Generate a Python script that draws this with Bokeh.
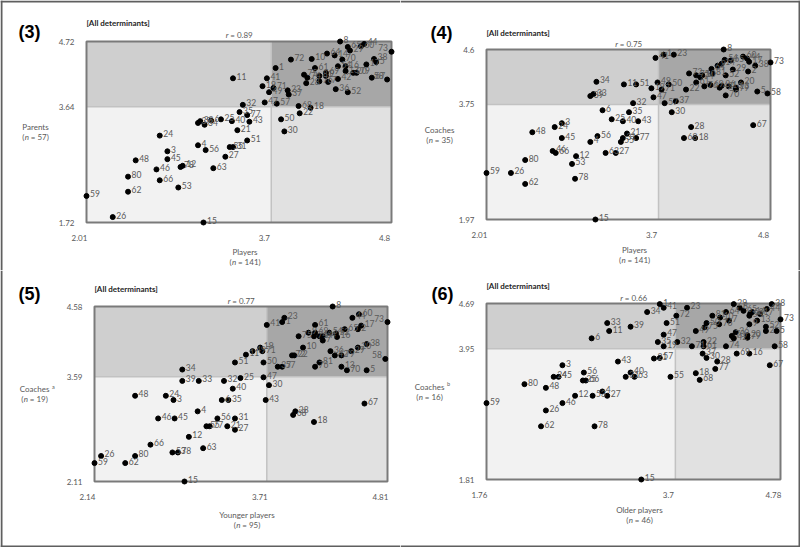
from bokeh.plotting import figure
from bokeh.models import Range1d
from bokeh.layouts import row, column
from bokeh.embed import file_html
from bokeh.resources import INLINE
from bokeh.core.properties import value

# ---------------- data ----------------
# Panel (3): Players (x) vs Parents (y)
ids3 = [1, 3, 4, 5, 6, 7, 8, 9, 10, 11, 12, 13, 14, 15, 16, 17, 18, 19, 20, 21, 22, 23, 24, 25, 26, 27, 28, 29, 30,
        31, 32, 33, 34, 35, 36, 37, 38, 39, 40, 41, 42, 43, 44, 45, 46, 47, 48, 49, 50, 51, 52, 53, 54, 55, 56, 57, 58,
        59, 60, 61, 62, 63, 64, 65, 66, 67, 68, 69, 70, 71, 72, 73, 74, 75, 76, 77, 78, 79, 80, 81]
x3 = [3.74, 2.75, 3.03, 4.66, 3.15, 4.22, 4.33, 4.20, 4.07, 3.35, 2.89, 4.38, 4.28, 3.08, 4.38, 4.57, 4.06, 3.62, 4.45,
      3.39, 3.96, 3.85, 2.68, 3.24, 2.25, 3.28, 4.02, 4.42, 3.82, 3.35, 3.44, 3.05, 3.09, 3.41, 4.29, 3.86, 4.64, 3.03,
      3.34, 3.66, 4.31, 3.50, 4.55, 2.75, 2.65, 3.64, 2.46, 3.68, 3.79, 3.48, 4.40, 2.85, 4.31, 3.32, 3.10, 3.75, 4.76,
      2.01, 4.52, 4.10, 2.39, 3.17, 4.21, 4.40, 2.68, 4.62, 3.95, 4.20, 4.35, 3.72, 3.88, 4.80, 4.03, 4.00, 4.14, 3.48,
      2.87, 4.48, 2.39, 4.14]
y3 = [4.28, 2.90, 3.00, 4.38, 3.41, 4.05, 4.72, 4.15, 4.43, 4.11, 2.66, 4.23, 4.49, 1.72, 4.31, 4.34, 3.62, 3.98, 4.20,
      3.25, 3.53, 3.91, 3.16, 3.43, 1.81, 2.81, 4.03, 4.57, 3.23, 2.97, 3.67, 3.40, 3.34, 3.55, 3.93, 3.84, 4.43, 3.37,
      3.40, 4.11, 4.10, 3.39, 4.68, 2.77, 2.60, 3.71, 2.75, 3.88, 3.43, 3.08, 3.88, 2.30, 4.31, 2.97, 2.92, 3.69, 4.09,
      2.16, 4.64, 4.28, 2.23, 2.62, 4.52, 4.63, 2.42, 4.12, 3.65, 4.20, 4.42, 3.95, 4.42, 4.55, 4.12, 4.17, 4.06, 3.50,
      2.64, 4.20, 2.48, 4.15]
xticks3 = [2.01, 3.7, 4.8]
yticks3 = [1.72, 3.64, 4.72]

# Panel (4): Players (x) vs Coaches (y)
ids4 = [1, 2, 3, 4, 5, 6, 8, 9, 10, 11, 12, 13, 14, 15, 16, 17, 18, 19, 20, 21, 22, 23, 24, 25, 26, 27, 28, 29, 30,
        31, 32, 33, 34, 35, 36, 37, 38, 39, 40, 41, 42, 43, 44, 45, 46, 47, 48, 49, 50, 51, 52, 53, 54, 55, 56, 57, 58,
        59, 60, 61, 62, 63, 64, 65, 66, 67, 68, 69, 70, 71, 72, 73, 74, 75, 76, 77, 78, 79, 80, 81]
x4 = [3.75, 4.58, 2.75, 3.03, 4.67, 3.15, 4.34, 4.28, 4.13, 3.36, 2.89, 4.46, 4.32, 3.08, 4.39, 4.59, 4.06, 3.63, 4.51,
      3.39, 3.97, 3.85, 2.68, 3.24, 2.25, 3.28, 4.02, 4.43, 3.83, 3.35, 3.45, 3.06, 3.09, 3.41, 4.32, 3.87, 4.65, 3.03,
      3.35, 3.67, 4.30, 3.50, 4.57, 2.75, 2.66, 3.65, 2.46, 3.69, 3.80, 3.48, 4.36, 2.85, 4.35, 3.33, 3.10, 3.76, 4.77,
      2.01, 4.53, 4.07, 2.39, 3.18, 4.22, 4.41, 2.69, 4.63, 3.95, 4.21, 4.36, 3.73, 4.00, 4.80, 4.11, 4.07, 4.15, 3.48,
      2.88, 4.46, 2.39, 4.23]
y4 = [4.52, 4.26, 3.46, 3.17, 3.95, 3.66, 4.60, 4.35, 4.20, 4.06, 2.95, 4.01, 4.38, 1.97, 4.03, 4.41, 3.23, 4.00, 4.09,
      3.30, 3.98, 4.52, 3.40, 3.52, 2.69, 3.00, 3.40, 4.29, 3.63, 3.23, 3.77, 3.91, 4.10, 3.63, 4.04, 3.80, 4.35, 3.88,
      3.49, 4.47, 4.01, 3.49, 4.46, 3.23, 3.03, 3.86, 3.32, 4.09, 4.06, 4.06, 4.20, 2.83, 4.44, 3.17, 3.26, 3.77, 3.92,
      2.69, 4.49, 4.09, 2.52, 3.00, 4.30, 4.43, 3.00, 3.43, 3.23, 4.05, 3.89, 3.98, 4.23, 4.40, 4.17, 4.20, 4.03, 3.23,
      2.60, 3.98, 2.89, 4.23]
xticks4 = [2.01, 3.7, 4.8]
yticks4 = [1.97, 3.75, 4.6]

# Panel (5): Younger players (x) vs Coaches (y)
ids5 = list(range(1, 82))
x5 = [3.85, 4.54, 2.86, 3.08, 4.62, 3.30, 4.22, 4.31, 4.09, 4.04, 3.52, 3.00, 4.39, 4.19, 2.96, 4.35, 4.57, 4.14, 3.65,
      4.54, 3.35, 3.96, 3.87, 2.79, 3.47, 2.20, 3.42, 3.97, 4.48, 3.73, 3.42, 3.32, 3.09, 2.94, 3.36, 4.29, 3.81, 4.62,
      2.94, 3.40, 3.71, 4.33, 3.70, 4.49, 2.87, 2.72, 3.68, 2.51, 3.58, 3.68, 3.42, 4.34, 2.85, 4.28, 3.16, 3.26, 3.85,
      4.79, 2.14, 4.55, 4.15, 2.42, 3.13, 4.22, 4.42, 2.65, 4.60, 3.95, 4.15, 4.44, 3.67, 3.94, 4.81, 4.14, 4.00, 4.15,
      3.19, 2.90, 4.39, 2.51, 4.19]
y5 = [4.36, 4.26, 3.26, 3.10, 3.68, 3.26, 4.10, 4.58, 4.21, 4.00, 3.90, 2.74, 3.73, 4.16, 2.11, 4.15, 4.31, 2.95, 4.00,
      4.00, 2.89, 3.89, 4.42, 3.32, 3.57, 2.47, 2.84, 3.10, 3.95, 3.47, 3.00, 3.53, 3.53, 3.69, 3.26, 3.95, 3.73, 4.05,
      3.53, 3.42, 4.32, 3.89, 3.26, 4.42, 3.00, 3.00, 3.58, 3.32, 3.95, 3.79, 3.79, 4.20, 2.52, 4.21, 2.89, 3.00, 3.73,
      3.84, 2.37, 4.47, 4.32, 2.37, 2.58, 4.16, 4.26, 2.63, 3.21, 3.05, 4.21, 3.68, 3.95, 3.89, 4.36, 4.16, 4.16, 3.73,
      2.89, 2.52, 3.89, 2.47, 3.79]
xticks5 = [2.14, 3.71, 4.81]
yticks5 = [2.11, 3.59, 4.58]

# Panel (6): Older players (x) vs Coaches (y)
ids6 = list(range(1, 82))
x6 = [3.54, 4.63, 2.54, 2.95, 4.74, 2.84, 4.25, 4.36, 4.46, 4.16, 3.02, 2.67, 4.54, 4.49, 3.35, 4.46, 4.57, 3.91, 3.58,
      4.44, 3.48, 3.99, 3.82, 2.45, 2.75, 2.37, 3.00, 4.13, 4.30, 4.02, 3.19, 3.72, 3.00, 3.41, 3.52, 4.32, 3.98, 4.69,
      3.24, 3.24, 3.58, 4.30, 3.11, 4.64, 2.50, 2.54, 3.58, 2.37, 3.91, 4.02, 3.61, 4.63, 2.85, 4.46, 3.65, 2.76, 3.54,
      4.72, 1.76, 4.47, 3.99, 2.32, 3.28, 4.22, 4.40, 2.78, 4.67, 3.95, 4.33, 4.28, 3.87, 3.71, 4.78, 4.22, 4.00, 4.15,
      4.11, 2.87, 4.44, 2.15, 4.08]
y6 = [4.68, 4.24, 3.68, 3.25, 4.24, 4.12, 4.41, 4.62, 4.35, 4.46, 4.24, 3.18, 4.41, 4.55, 1.81, 3.87, 4.52, 3.55, 3.99,
      4.17, 3.79, 4.06, 4.62, 3.49, 3.43, 2.94, 3.18, 3.74, 4.68, 3.80, 3.49, 4.06, 4.37, 4.55, 4.06, 4.22, 3.87, 4.68,
      4.31, 3.56, 4.62, 4.12, 3.74, 4.60, 3.49, 3.06, 4.18, 3.31, 4.24, 4.37, 4.37, 4.31, 3.18, 4.49, 3.49, 3.56, 3.80,
      3.99, 3.06, 4.53, 3.99, 2.68, 3.49, 4.55, 4.57, 3.43, 3.68, 3.44, 3.87, 4.16, 3.99, 4.49, 4.43, 3.99, 4.30, 4.35,
      3.62, 2.68, 4.13, 3.37, 4.49]
xticks6 = [1.76, 3.7, 4.78]
yticks6 = [1.81, 3.95, 4.69]

r_values = ["0.89", "0.75", "0.77", "0.66"]
panel_nums = ["(3)", "(4)", "(5)", "(6)"]
y_titles = ["Parents", "Coaches", "Coaches", "Coaches"]
y_sups = ["", "", "a", "b"]
y_ns = ["57", "35", "19", "16"]
x_titles = ["Players", "Players", "Younger players", "Older players"]
x_ns = ["141", "141", "95", "46"]

# ---------------- style ----------------
TL, TR, BL, BR = "#cfcfcf", "#a7a7a7", "#f2f2f2", "#e1e1e1"
GREY = "#595959"
FONT = "Lato"
CW = {'(': .30, ')': .30, ' ': .20, '=': .58, '.': .24, 'n': .55, 'r': .37}


def tw(s, size):
    return sum(CW.get(c, .58) for c in s) * size


def make_panel(ids, xs, ys, xt, yt, k, fw, fh, L, T, W, H, pos, edges):
    xmin, xthr, xmax = xt
    ymin, ythr, ymax = yt
    sx = (xmax - xmin) / W
    sy = (ymax - ymin) / H
    x0r, x1r = xmin - L * sx, xmax + (fw - L - W) * sx
    y0r, y1r = ymin - (fh - T - H) * sy, ymax + T * sy
    p = figure(width=fw, height=fh, output_backend="svg", toolbar_location=None,
               x_range=Range1d(x0r, x1r), y_range=Range1d(y0r, y1r), min_border=0)
    p.axis.visible = False
    p.outline_line_color = None
    p.grid.visible = False
    p.background_fill_color = "white"
    p.border_fill_color = "white"

    # quadrant shading
    p.quad(left=[xmin, xthr, xmin, xthr], right=[xthr, xmax, xthr, xmax],
           bottom=[ythr, ythr, ymin, ymin], top=[ymax, ymax, ythr, ythr],
           fill_color=[TL, TR, BL, BR], line_color=None)
    p.segment(x0=[xthr, xmin], y0=[ymin, ythr], x1=[xthr, xmax], y1=[ymax, ythr],
              line_color="#c2c2c2", line_width=1.5)
    p.quad(left=[xmin], right=[xmax], bottom=[ymin], top=[ymax],
           fill_color=None, line_color="#7a7a7a", line_width=2)

    # points
    p.scatter(x=xs, y=ys, size=5, color="black")
    # point labels: right of the dot, or left of it if it would leave the picture
    rx_, ry_, rt_, lx_, ly_, lt_ = [], [], [], [], [], []
    for i, xv, yv in zip(ids, xs, ys):
        right_end = L + (xv - xmin) / sx + 3.5 + 4.9 * len(str(i))
        if right_end > fw - 3:
            lx_.append(xv); ly_.append(yv); lt_.append(str(i))
        else:
            rx_.append(xv); ry_.append(yv); rt_.append(str(i))
    common = dict(text_font=value(FONT), text_font_size="8.5px", text_color=GREY,
                  text_baseline="middle")
    p.text(x=rx_, y=ry_, text=rt_, x_offset=3.5, y_offset=-2, text_align="left", **common)
    if lt_:
        p.text(x=lx_, y=ly_, text=lt_, x_offset=-3.5, y_offset=-4, text_align="right", **common)

    # tick labels at the tick values
    p.text(x=xt, y=[ymin] * 3, text=[f"{t:g}" for t in xt], x_offset=-7, y_offset=15,
           text_font=value(FONT), text_font_size="8px", text_color=GREY,
           text_align="center", text_baseline="middle")
    p.text(x=[xmin] * 3, y=yt, text=[f"{t:g}" for t in yt], x_offset=-12, y_offset=0,
           text_font=value(FONT), text_font_size="8px", text_color=GREY,
           text_align="right", text_baseline="middle")

    def put(text, rx, ry, size="8px", color=GREY, style="normal", align="left", font=FONT):
        p.text(x=[xmin + rx * sx], y=[ymax - ry * sy], text=[text], text_font=value(font),
               text_font_size=size, text_color=color, text_font_style=style,
               text_align=align, text_baseline="middle")

    def italic_lead(prefix, ital, suffix, cx, ry, size=8):
        # suffix begins with a space: SVG drops leading spaces, so advance by it
        total = tw(prefix + ital + suffix, size)
        x0 = cx - total / 2
        if prefix:
            put(prefix, x0, ry, size=f"{size}px")
        x0 += tw(prefix, size)
        put(ital, x0, ry, size=f"{size}px", style="italic")
        x0 += tw(ital, size)
        stripped = suffix.lstrip(" ")
        x0 += tw(suffix[:len(suffix) - len(stripped)], size)
        put(stripped, x0, ry, size=f"{size}px")

    put(panel_nums[k], pos["num"][0], pos["num"][1], size="18px", color="black", style="bold",
        align="center", font="Liberation Sans")
    put("[All determinants]", 0, pos["hdr"], size="8px", color="#262626", style="bold")
    italic_lead("", "r", " = " + r_values[k], W / 2, pos["r"])
    ycx = pos["ylab"]
    put(y_titles[k], ycx, H / 2 - 5, align="center")
    if y_sups[k]:
        put(y_sups[k], ycx + 17.5, H / 2 - 7.5, size="5.5px")
    italic_lead("(", "n", " = " + y_ns[k] + ")", ycx, H / 2 + 5)
    xcx = W / 2 + 6
    put(x_titles[k], xcx, H + pos["xlab"], align="center")
    italic_lead("(", "n", " = " + x_ns[k] + ")", xcx, H + pos["xlab"] + 10)

    # outer picture border (this panel's share of it)
    ex0, ex1 = x0r + 1 * sx, x1r - 1 * sx
    ey0, ey1 = y0r + 1 * sy, y1r - 1 * sy
    segs = {"left": (ex0, y0r, ex0, y1r), "right": (ex1, y0r, ex1, y1r),
            "top": (x0r, ey1, x1r, ey1), "bottom": (x0r, ey0, x1r, ey0)}
    chosen = [segs[e] for e in edges]
    p.segment(x0=[c[0] for c in chosen], y0=[c[1] for c in chosen],
              x1=[c[2] for c in chosen], y1=[c[3] for c in chosen],
              line_color="#5f5f5f", line_width=2)
    return p


p3 = make_panel(ids3, x3, y3, xticks3, yticks3, 0, 400, 270, 86, 41, 305, 181,
                {"num": (-57, -10), "hdr": -19, "r": -7, "ylab": -51, "xlab": 29}, ["left", "top"])
p4 = make_panel(ids4, x4, y4, xticks4, yticks4, 1, 400, 270, 86, 49, 284, 170,
                {"num": (-45, -17), "hdr": -17, "r": -6, "ylab": -47, "xlab": 30}, ["right", "top"])
p5 = make_panel(ids5, x5, y5, xticks5, yticks5, 2, 400, 277, 94, 36, 293, 175,
                {"num": (-65, -13), "hdr": -18, "r": -6, "ylab": -60, "xlab": 33}, ["left", "bottom"])
p6 = make_panel(ids6, x6, y6, xticks6, yticks6, 3, 400, 277, 86, 33, 294, 176,
                {"num": (-44, -10), "hdr": -18, "r": -6, "ylab": -57, "xlab": 30}, ["right", "bottom"])

layout = column(row(p3, p4), row(p5, p6))

open("out.html", "w").write(file_html(layout, INLINE))
